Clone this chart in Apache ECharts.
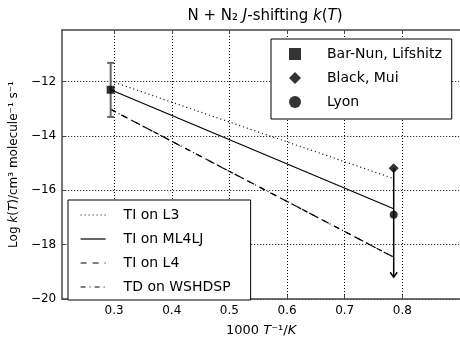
<!DOCTYPE html>
<html>
<head>
<meta charset="utf-8">
<script src="https://cdn.jsdelivr.net/npm/echarts@6/dist/echarts.min.js"></script>
<style>
  html, body { margin: 0; padding: 0; background: #fff; }
  #chart { width: 460px; height: 342px; }
</style>
</head>
<body>
<div id="chart"></div>
<script>
// axis ticks
const xTicks = [0.3, 0.4, 0.5, 0.6, 0.7, 0.8];
const yTicks = [-20, -18, -16, -14, -12];

// theory lines (two end points each)
const lineX = [0.294, 0.785];
const tiL3 = [-11.98, -15.57];
const tiML4LJ = [-12.30, -16.68];
const tiL4 = [-13.02, -18.46];
const tdWSHDSP = [-13.02, -18.46];

// experiments
const barNun = [0.294, -12.30];
const barNunErr = [-11.31, -13.30];
const blackMui = [0.785, -15.19];
const blackMuiLimit = -19.2;
const lyon = [0.785, -16.90];

const font = 'DejaVu Sans';
const axisColor = '#444';

const toLine = (ys) => lineX.map((x, i) => [x, ys[i]]);

const chart = echarts.init(document.getElementById('chart'));

const lineSeries = (name, ys, type) => ({
  name,
  type: 'line',
  symbol: 'none',
  silent: true,
  data: toLine(ys),
  itemStyle: { color: '#000' },
  lineStyle: { color: '#000', width: 1.2, type },
  z: 3,
});

const richText = (size) => ({
  n: { fontFamily: font, fontSize: size, color: '#000' },
  i: { fontFamily: font, fontSize: size, fontStyle: 'italic', color: '#000' },
});

chart.setOption({
  animation: false,
  textStyle: { fontFamily: font },
  title: {
    text: '{n|N + N₂ }{i|J}{n|-shifting }{i|k}{n|(}{i|T}{n|)}',
    left: 260,
    top: 4,
    textAlign: 'center',
    textStyle: { fontWeight: 'normal', rich: richText(15) },
  },
  grid: { left: 60, top: 30, width: 402, bottom: 34 },
  xAxis: [
    {
      type: 'value',
      min: 0.21,
      max: 0.9,
      name: '{n|1000 }{i|T}{n|⁻¹/}{i|K}',
      nameLocation: 'middle',
      nameGap: 25,
      nameTextStyle: { rich: richText(13) },
      axisLine: { show: true, onZero: false, lineStyle: { color: axisColor, width: 1.5 } },
      axisTick: { show: true, inside: true, length: 4, customValues: xTicks, lineStyle: { color: axisColor } },
      axisLabel: { customValues: xTicks, color: '#000', fontSize: 12, margin: 6, formatter: (v) => v.toFixed(1) },
      splitLine: { show: true, lineStyle: { color: '#000', width: 1, type: [1, 2] } },
    },
    {
      type: 'value',
      position: 'top',
      min: 0.21,
      max: 0.9,
      axisLine: { show: true, onZero: false, lineStyle: { color: axisColor, width: 1.5 } },
      axisTick: { show: true, inside: true, length: 4, customValues: xTicks, lineStyle: { color: axisColor } },
      axisLabel: { show: false },
      splitLine: { show: false },
    },
  ],
  yAxis: {
    type: 'value',
    min: -20,
    max: -10.1,
    name: '{n|Log }{i|k}{n|(}{i|T}{n|)/cm³ molecule⁻¹ s⁻¹}',
    nameLocation: 'middle',
    nameRotate: 90,
    nameGap: 40,
    nameTextStyle: { rich: richText(12) },
    axisLine: { show: true, onZero: false, lineStyle: { color: axisColor, width: 1.5 } },
    axisTick: { show: true, inside: true, length: 4, customValues: yTicks, lineStyle: { color: axisColor } },
    axisLabel: { customValues: yTicks, color: '#000', fontSize: 12, margin: 6, formatter: (v) => (v < 0 ? '−' + Math.abs(v) : String(v)) },
    splitLine: { show: true, lineStyle: { color: '#000', width: 1, type: [1, 2] } },
  },
  legend: [
    {
      orient: 'vertical',
      left: 271,
      top: 39,
      data: ['Bar-Nun, Lifshitz', 'Black, Mui', 'Lyon'],
      backgroundColor: '#fff',
      borderColor: '#000',
      borderWidth: 1,
      borderRadius: 0,
      padding: [8, 10, 10, 18],
      itemWidth: 12,
      itemHeight: 12,
      itemGap: 10,
      textStyle: { fontFamily: font, fontSize: 14, color: '#000', padding: [0, 0, 0, 21] },
    },
    {
      orient: 'vertical',
      left: 68,
      top: 200,
      data: ['TI on L3', 'TI on ML4LJ', 'TI on L4', 'TD on WSHDSP'],
      backgroundColor: '#fff',
      borderColor: '#000',
      borderWidth: 1,
      borderRadius: 0,
      padding: [8, 20, 6, 12],
      itemWidth: 25,
      itemHeight: 14,
      itemGap: 10,
      itemStyle: { opacity: 0 },
      lineStyle: { width: 1.2 },
      textStyle: { fontFamily: font, fontSize: 14, color: '#000', padding: [0, 0, 0, 13] },
    },
  ],
  series: [
    lineSeries('TI on L3', tiL3, [1, 3]),
    lineSeries('TI on ML4LJ', tiML4LJ, 'solid'),
    lineSeries('TI on L4', tiL4, [6, 6]),
    lineSeries('TD on WSHDSP', tdWSHDSP, [5, 4, 1, 4]),
    {
      // Bar-Nun error bar
      type: 'custom',
      silent: true,
      z: 4,
      data: [[barNun[0], barNunErr[0], barNunErr[1]]],
      renderItem: (params, api) => {
        const top = api.coord([api.value(0), api.value(1)]);
        const bot = api.coord([api.value(0), api.value(2)]);
        const style = { stroke: '#666', lineWidth: 2 };
        return {
          type: 'group',
          children: [
            { type: 'line', shape: { x1: top[0], y1: top[1], x2: bot[0], y2: bot[1] }, style },
            { type: 'line', shape: { x1: top[0] - 3.5, y1: top[1], x2: top[0] + 3.5, y2: top[1] }, style },
            { type: 'line', shape: { x1: bot[0] - 3.5, y1: bot[1], x2: bot[0] + 3.5, y2: bot[1] }, style },
          ],
        };
      },
    },
    {
      // Black, Mui upper limit arrow
      type: 'custom',
      silent: true,
      z: 4,
      data: [[blackMui[0], blackMui[1], blackMuiLimit]],
      renderItem: (params, api) => {
        const top = api.coord([api.value(0), api.value(1)]);
        const bot = api.coord([api.value(0), api.value(2)]);
        const style = { stroke: '#000', lineWidth: 1.5, fill: null };
        return {
          type: 'group',
          children: [
            { type: 'line', shape: { x1: top[0], y1: top[1], x2: bot[0], y2: bot[1] }, style },
            { type: 'polyline', shape: { points: [[bot[0] - 3.5, bot[1] - 5], [bot[0], bot[1]], [bot[0] + 3.5, bot[1] - 5]] }, style },
          ],
        };
      },
    },
    {
      name: 'Bar-Nun, Lifshitz',
      type: 'scatter',
      symbol: 'rect',
      symbolSize: 8,
      itemStyle: { color: '#000' },
      data: [barNun],
      z: 5,
    },
    {
      name: 'Black, Mui',
      type: 'scatter',
      symbol: 'diamond',
      symbolSize: 10,
      itemStyle: { color: '#000' },
      data: [blackMui],
      z: 5,
    },
    {
      name: 'Lyon',
      type: 'scatter',
      symbol: 'circle',
      symbolSize: 8,
      itemStyle: { color: '#000' },
      data: [lyon],
      z: 5,
    },
  ],
});
</script>
</body>
</html>
